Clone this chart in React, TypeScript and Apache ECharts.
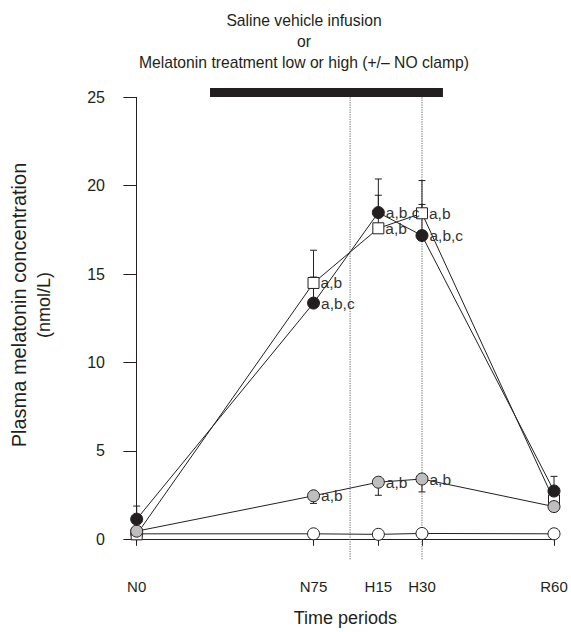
import React, { useEffect, useRef } from "react";
import * as echarts from "echarts";

// Time periods and their positions along the time axis
const categories = ["N0", "N75", "H15", "H30", "R60"];
const timePoints = [0, 75, 102.5, 121, 177];

// Filled black circles
const blackValues = [1.14, 13.36, 18.48, 17.18, 2.73];
const blackErrUp = [0.74, 1.47, 1.9, 1.76, 0.83];
const blackLabels = ["", "a,b,c", "a,b,c", "a,b,c", ""];

// Open squares
const squareValues = [0.28, 14.5, 17.59, 18.44, 2.2];
const squareErrUp = [0, 1.85, 1.87, 1.85, 0];
const squareLabels = ["", "a,b", "a,b", "a,b", ""];

// Grey circles
const greyValues = [0.46, 2.46, 3.23, 3.41, 1.85];
const greyErrDown = [0, 0.43, 0.74, 0.73, 0];
const greyLabels = ["", "a,b", "a,b", "a,b", ""];

// Open circles (saline)
const openValues = [0.31, 0.31, 0.28, 0.33, 0.31];

// Infusion bar and period markers (in axis units)
const infusionStart = 31.1;
const infusionEnd = 129.9;
const infusionLevel = 25.27;
const periodLines = [90.5, 121];
const periodLineTop = 25;
const periodLineBottom = -1.15;

const yMin = 0;
const yMax = 25;
const yInterval = 5;

const titleLines = [
  "Saline vehicle infusion",
  "or",
  "Melatonin treatment low or high (+/\u2013 NO clamp)",
];
const yTitleLines = ["Plasma melatonin concentration", "(nmol/L)"];
const xTitle = "Time periods";

const INK = "#231f20";
const FONT = "'Liberation Sans', Arial, Helvetica, sans-serif";

function errorSeries(values: number[], errs: number[], dir: number) {
  const data: number[][] = [];
  timePoints.forEach((t, i) => {
    if (errs[i] > 0) data.push([t, values[i], values[i] + dir * errs[i]]);
  });
  return {
    type: "custom",
    silent: true,
    clip: false,
    z: 1,
    data,
    encode: { x: 0, y: [1, 2] },
    renderItem: (_params: any, api: any) => {
      const x = api.value(0);
      const p0 = api.coord([x, api.value(1)]);
      const p1 = api.coord([x, api.value(2)]);
      return {
        type: "group",
        children: [
          {
            type: "line",
            shape: { x1: p0[0], y1: p0[1], x2: p1[0], y2: p1[1] },
            style: { stroke: INK, lineWidth: 1 },
          },
          {
            type: "line",
            shape: { x1: p1[0] - 3.5, y1: p1[1], x2: p1[0] + 3.5, y2: p1[1] },
            style: { stroke: INK, lineWidth: 1 },
          },
        ],
      };
    },
  };
}

function dataSeries(
  name: string,
  values: number[],
  labels: string[] | null,
  symbol: string,
  fill: string,
  size: number,
  z: number
) {
  return {
    name,
    type: "line",
    z,
    clip: false,
    symbol,
    symbolSize: size,
    showAllSymbol: true,
    lineStyle: { color: INK, width: 1 },
    itemStyle: { color: fill, borderColor: INK, borderWidth: 1, opacity: 1 },
    data: timePoints.map((t, i) => ({
      value: [t, values[i]],
      label: {
        show: !!(labels && labels[i]),
        formatter: labels ? labels[i] : "",
      },
    })),
    label: {
      position: "right",
      distance: 1,
      fontSize: 15.5,
      color: "#333",
      fontFamily: FONT,
    },
  };
}

export default function App() {
  const ref = useRef<HTMLDivElement>(null);

  useEffect(() => {
    if (!ref.current) return;
    const prevMargin = document.body.style.margin;
    document.body.style.margin = "0";
    const chart = echarts.init(ref.current, undefined, { renderer: "svg" });

    const option: any = {
      animation: false,
      backgroundColor: "#ffffff",
      grid: { left: 136.7, right: 17, top: 97.3, bottom: 83.7 },
      xAxis: {
        type: "value",
        min: timePoints[0],
        max: timePoints[timePoints.length - 1],
        offset: 20.7,
        splitLine: { show: false },
        axisLine: { show: true, lineStyle: { color: INK, width: 1 } },
        axisTick: {
          show: true,
          customValues: timePoints,
          length: 6.5,
          lineStyle: { color: INK, width: 1 },
        },
        axisLabel: {
          customValues: timePoints,
          formatter: (v: number) => {
            const idx = timePoints.indexOf(v);
            return idx >= 0 ? categories[idx] : "";
          },
          fontSize: 15,
          color: INK,
          fontFamily: FONT,
          margin: 19,
        },
        name: xTitle,
        nameLocation: "middle",
        nameGap: 49,
        nameTextStyle: { fontSize: 18, color: INK, fontFamily: FONT },
      },
      yAxis: {
        type: "value",
        min: yMin,
        max: yMax,
        interval: yInterval,
        offset: 11.7,
        splitLine: { show: false },
        axisLine: { show: true, lineStyle: { color: INK, width: 1 } },
        axisTick: { show: true, length: 13.3, lineStyle: { color: INK, width: 1 } },
        axisLabel: { fontSize: 16, color: INK, fontFamily: FONT, margin: 20 },
      },
      graphic: [
        ...titleLines.map((t, i) => ({
          type: "text",
          x: 304,
          y: 20 + i * 21,
          style: {
            text: t,
            fontSize: 15.7,
            fill: INK,
            fontFamily: FONT,
            align: "center",
            verticalAlign: "middle",
          },
        })),
        ...yTitleLines.map((t, i) => ({
          type: "text",
          x: 19 + i * 25,
          y: 305,
          rotation: Math.PI / 2,
          style: {
            text: t,
            fontSize: i === 0 ? 20 : 18,
            fill: INK,
            fontFamily: FONT,
            align: "center",
            verticalAlign: "middle",
          },
        })),
      ],
      series: [
        {
          type: "line",
          silent: true,
          clip: false,
          symbol: "none",
          z: 0,
          lineStyle: { color: INK, width: 9, cap: "butt" },
          data: [
            [infusionStart, infusionLevel],
            [infusionEnd, infusionLevel],
          ],
        },
        ...periodLines.map((x) => ({
          type: "line",
          silent: true,
          clip: false,
          symbol: "none",
          z: 0,
          lineStyle: { color: "#666", width: 1, type: [1.2, 1.2] },
          data: [
            [x, periodLineTop],
            [x, periodLineBottom],
          ],
        })),
        errorSeries(blackValues, blackErrUp, 1),
        errorSeries(squareValues, squareErrUp, 1),
        errorSeries(greyValues, greyErrDown, -1),
        dataSeries("Saline", openValues, null, "circle", "#ffffff", 12, 2),
        dataSeries("Melatonin (square)", squareValues, squareLabels, "rect", "#ffffff", 11, 3),
        dataSeries("Melatonin low", greyValues, greyLabels, "circle", "#bebebe", 12, 4),
        dataSeries("Melatonin high", blackValues, blackLabels, "circle", INK, 12, 5),
      ],
    };

    chart.setOption(option);
    return () => {
      chart.dispose();
      document.body.style.margin = prevMargin;
    };
  }, []);

  return <div ref={ref} style={{ width: 571, height: 632 }} />;
}
